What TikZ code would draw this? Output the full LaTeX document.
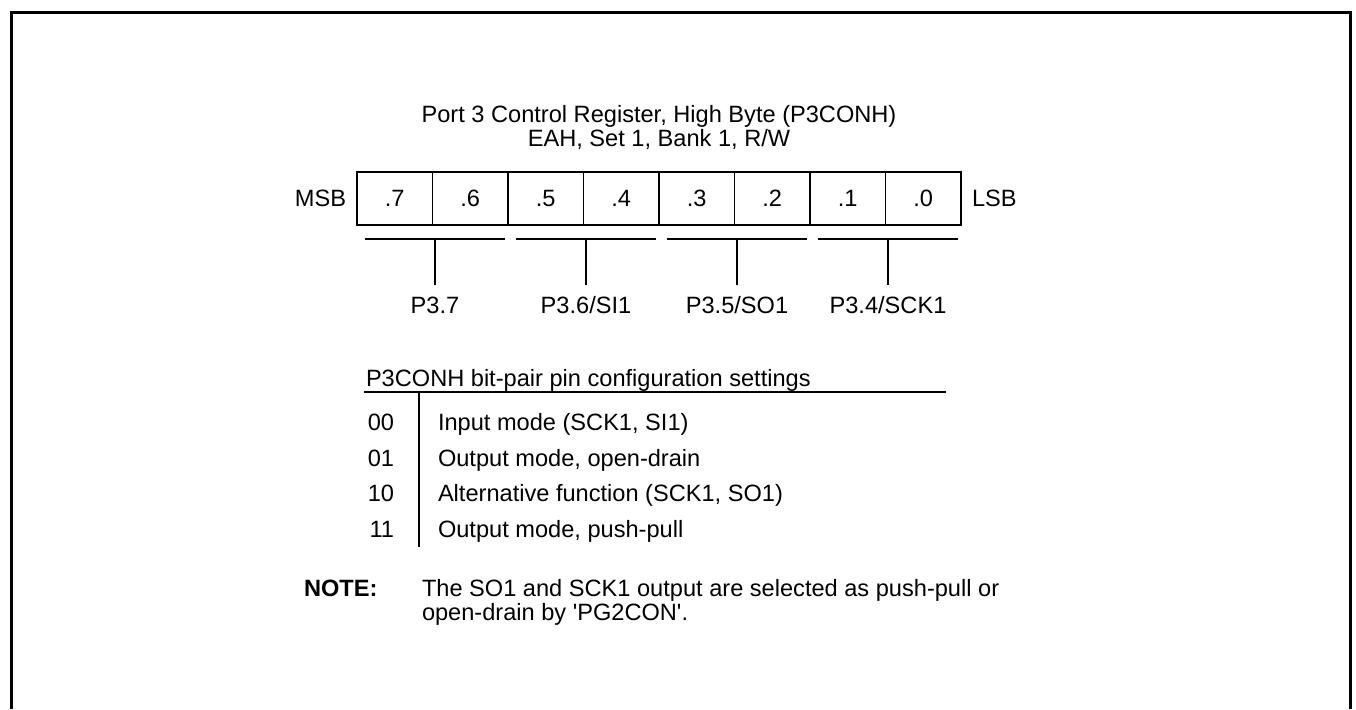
\documentclass[tikz,border=0pt]{standalone}
\usepackage{fontspec}
\setmainfont{Liberation Sans}[Ligatures=TeXOff]
\usetikzlibrary{positioning, calc}

\begin{document}
\begin{tikzpicture}[
  x=0.5pt, y=-0.5pt,
  every node/.style={font=\fontsize{11.8}{14}\selectfont, inner sep=0pt, outer sep=0pt}
]
\tikzset{
  frame/.style ={line width=1.5pt},
  cell/.style  ={draw=black, line width=0.7pt, minimum width=37.75pt,
                 minimum height=26.5pt},
  rule/.style  ={line width=0.7pt},
  bitlab/.style={anchor=base},
  row/.style   ={anchor=base west},
  code/.style  ={anchor=base east}
}
\useasboundingbox (0,0) rectangle (1356,709);

%% ----- Frame (open at the bottom) -----
\draw[frame] (11,709) -- (11,12) -- (1350,12) -- (1350,709);

%% ----- Title -----
\node[bitlab] (title) at (659,122) {Port 3 Control Register, High Byte (P3CONH)};
\node[bitlab] (sub)   at (659,146) {EAH, Set 1, Bank 1, R/W};

%% ----- Register bits .7 ... .0 -----
\node[cell, anchor=north west] (b7) at (357,172) {.7};
\foreach \i [remember=\i as \j (initially 7)] in {6,...,0}
  \node[cell, right=0pt of b\j] (b\i) {.\i};
\node[left=5.5pt of b7]  (msb) {MSB};
\node[right=5.5pt of b0] (lsb) {LSB};

%% ----- Bit-pair brackets and pin names -----
\foreach \hi/\lo/\pin in {7/6/{P3.7}, 5/4/{P3.6/SI1}, 3/2/{P3.5/SO1}, 1/0/{P3.4/SCK1}} {
  \coordinate (l\hi) at ([xshift=4pt, yshift=-7pt]b\hi.south west);
  \coordinate (r\hi) at ([xshift=-1.5pt, yshift=-7pt]b\lo.south east);
  \coordinate (m\hi) at ($(l\hi)!0.5!(r\hi)$);
  \draw[rule] (l\hi) -- (r\hi);
  \node[bitlab] (pin\hi) at ($(m\hi)+(0,74)$) {\pin};
  \draw[rule] (m\hi) -- ($(m\hi)+(0,46)$);
}

%% ----- Settings table -----
\node[row] (head) at (366,386) {P3CONH bit-pair pin configuration settings};
\coordinate (tl) at (364,392);
\coordinate (tr) at (946,392);
\draw[rule] (tl) -- (tr);
\coordinate (vt) at (419,392);
\coordinate (vb) at (419,547);
\draw[rule] (vt) -- (vb);

\foreach \c/\txt [count=\k from 0] in {00/{Input mode (SCK1, SI1)},
    01/{Output mode, open-drain},
    10/{Alternative function (SCK1, SO1)},
    11/{Output mode, push-pull}} {
  \node[code] (c\k) at (394,430.5+35.5*\k) {\c};
  \node[row]  (d\k) at (438,430.5+35.5*\k) {\txt};
}

%% ----- Note -----
\node[row] (note) at (304,596) {\bfseries NOTE:};
\node[row] (n1) at (422,596) {The SO1 and SCK1 output are selected as push-pull or};
\node[row] (n2) at (422,620) {open-drain by 'PG2CON'.};

\end{tikzpicture}
\end{document}
